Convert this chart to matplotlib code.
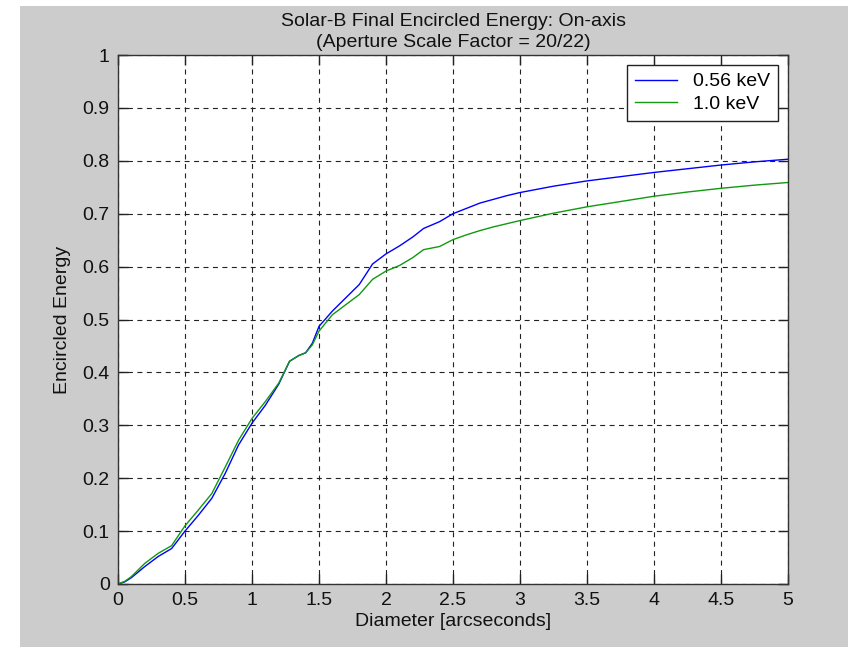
import matplotlib
matplotlib.use("Agg")
import matplotlib.pyplot as plt
from matplotlib.patches import Rectangle

diameter = [0, 0.05, 0.1, 0.2, 0.3, 0.4, 0.5, 0.6, 0.7, 0.8, 0.9, 1.0, 1.1, 1.2,
            1.28, 1.35, 1.4, 1.45, 1.5, 1.6, 1.7, 1.8, 1.9, 2.0, 2.1, 2.2, 2.28,
            2.4, 2.5, 2.6, 2.7, 2.8, 2.9, 3.0, 3.25, 3.5, 3.75, 4.0, 4.25, 4.5,
            4.75, 5.0]
ee_056 = [0, 0.004, 0.012, 0.033, 0.052, 0.067, 0.100, 0.130, 0.162, 0.209,
          0.263, 0.304, 0.338, 0.378, 0.421, 0.432, 0.437, 0.455, 0.487, 0.516,
          0.541, 0.566, 0.605, 0.624, 0.639, 0.656, 0.672, 0.685, 0.700, 0.710,
          0.720, 0.727, 0.734, 0.740, 0.752, 0.762, 0.770, 0.778, 0.785, 0.792,
          0.798, 0.803]
ee_10 = [0, 0.005, 0.014, 0.039, 0.058, 0.0725, 0.110, 0.140, 0.171, 0.221,
         0.272, 0.313, 0.345, 0.380, 0.421, 0.432, 0.437, 0.452, 0.478, 0.509,
         0.528, 0.547, 0.576, 0.5915, 0.602, 0.617, 0.632, 0.638, 0.651, 0.660,
         0.668, 0.675, 0.681, 0.687, 0.701, 0.713, 0.723, 0.733, 0.741, 0.748,
         0.754, 0.759]
labels = ["0.56 keV", "1.0 keV"]
xticks = [0, 0.5, 1, 1.5, 2, 2.5, 3, 3.5, 4, 4.5, 5]
xticklabels = ["0", "0.5", "1", "1.5", "2", "2.5", "3", "3.5", "4", "4.5", "5"]
yticks = [0, 0.1, 0.2, 0.3, 0.4, 0.5, 0.6, 0.7, 0.8, 0.9, 1]
yticklabels = ["0", "0.1", "0.2", "0.3", "0.4", "0.5", "0.6", "0.7", "0.8", "0.9", "1"]

plt.rcParams['font.family'] = ['Liberation Sans', 'DejaVu Sans']
FS = 14

W, H = 848, 647
fig = plt.figure(figsize=(W / 100, H / 100), dpi=100, facecolor='white')
fig.patches.append(Rectangle((20 / W, 0), 1 - 20 / W, 1 - 6 / H,
                             transform=fig.transFigure, facecolor='#cccccc',
                             edgecolor='none', zorder=-10))

L, R, T, B = 118, 788, 55, 584
ax = fig.add_axes([L / W, 1 - B / H, (R - L) / W, (B - T) / H])
ax.set_facecolor('white')

ax.plot(diameter, ee_056, color='#0000ff', lw=1.0, label=labels[0])
ax.plot(diameter, ee_10, color='#119911', lw=1.0, label=labels[1])

ax.set_xlim(0, 5)
ax.set_ylim(0, 1)
ax.set_xticks(xticks)
ax.set_xticklabels(xticklabels)
ax.set_yticks(yticks)
ax.set_yticklabels(yticklabels)
ax.tick_params(direction='in', length=7.5, width=1, top=True, right=True,
               labelsize=FS, color='#222222', labelcolor='#111111', pad=6)
for s in ax.spines.values():
    s.set_color('#333333')
    s.set_linewidth(1.0)
ax.grid(True, color='#222222', linestyle=(0, (4.5, 4)), linewidth=0.8)

ax.set_xlabel('Diameter [arcseconds]', fontsize=FS, color='#111111', labelpad=3)
ax.set_ylabel('Encircled Energy', fontsize=FS, color='#111111', labelpad=8)
ax.set_title('Solar-B Final Encircled Energy: On-axis\n(Aperture Scale Factor = 20/22)',
             fontsize=FS, color='#111111', pad=6, linespacing=1.3)

leg = ax.legend(loc='upper right', bbox_to_anchor=(0.985, 0.981),
                borderaxespad=0, fontsize=FS, fancybox=False, framealpha=1,
                edgecolor='#222222', handlelength=2.2, handletextpad=0.8,
                labelspacing=0.25, borderpad=0.4)
leg.get_frame().set_linewidth(1.0)

fig.savefig('out.png', dpi=100, facecolor=fig.get_facecolor())
